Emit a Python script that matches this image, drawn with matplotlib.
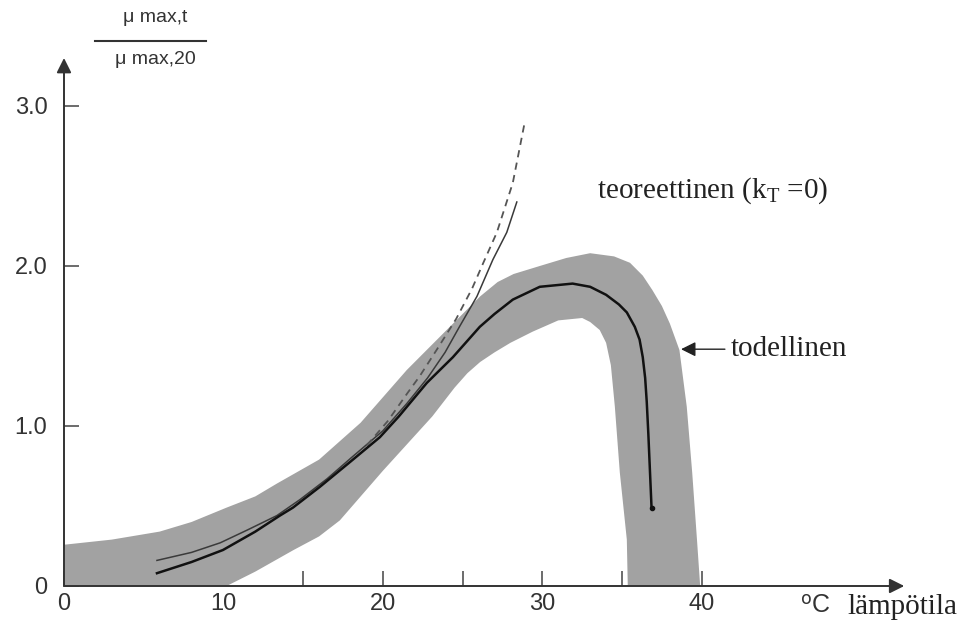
import numpy as np
import matplotlib
matplotlib.use("Agg")
import matplotlib.pyplot as plt
from matplotlib.lines import Line2D

plt.rcParams['font.family'] = ['Liberation Sans', 'DejaVu Sans']
plt.rcParams['mathtext.fontset'] = 'custom'
plt.rcParams['mathtext.rm'] = 'Liberation Serif'
plt.rcParams['mathtext.it'] = 'Liberation Serif:italic'

# measured curve (todellinen), temperature in C
real_t = [5.83, 8, 9.97, 12, 13.54, 14.36, 16.05, 18, 19.81, 21, 22.76, 24.39, 26.08,
          27, 28.15, 29.84, 31.9, 33, 34.0, 34.8, 35.3, 35.8, 36.1, 36.3, 36.45,
          36.55, 36.65, 36.75, 36.85]
real_mu = [0.08, 0.15, 0.225, 0.34, 0.44, 0.49, 0.62, 0.78, 0.93, 1.06, 1.27, 1.43, 1.62,
           1.7, 1.79, 1.87, 1.89, 1.87, 1.82, 1.76, 1.71, 1.62, 1.54, 1.43, 1.3,
           1.15, 0.95, 0.72, 0.49]

# grey scatter band: outer (upper) edge, then inner (lower) edge back
band_top_t = [-1, 0.2, 3, 6, 8, 10.2, 12, 13.35, 16, 18.6, 21.5, 24, 26.1, 27.2, 28.2,
              29.84, 31.5, 33.0, 34.5, 35.5, 36.3, 36.9, 37.5, 38.0, 38.6, 39.06, 39.4,
              39.7, 39.9, 40.0]
band_top_mu = [0.25, 0.26, 0.29, 0.34, 0.4, 0.49, 0.56, 0.64, 0.79, 1.02, 1.35, 1.6, 1.81,
               1.9, 1.95, 2.0, 2.05, 2.08, 2.06, 2.02, 1.94, 1.85, 1.75, 1.64, 1.475,
               1.12, 0.71, 0.29, 0.0, -0.2]
band_low_t = [35.45, 35.36, 35.3, 34.86, 34.55, 34.3, 34.0, 33.6, 33.0, 32.5, 31.0, 29.4,
              28.0, 27.0, 26.1, 25.3, 24.5, 23.1, 20.0, 17.3, 16.0, 14.4, 12.0, 10.2,
              9.5, -1]
band_low_mu = [-0.2, 0.0, 0.29, 0.71, 1.12, 1.38, 1.52, 1.6, 1.65, 1.675, 1.66, 1.59,
               1.52, 1.46, 1.4, 1.33, 1.24, 1.06, 0.72, 0.41, 0.31, 0.225, 0.09, 0.0,
               -0.2, -0.2]

# theoretical (kT=0), thin line
theo_t = [5.83, 8, 9.8, 11.5, 13.35, 14.8, 16.5, 18, 20, 21.5, 22.8, 23.9, 24.8, 25.9,
          26.9, 27.77, 28.4]
theo_mu = [0.16, 0.21, 0.27, 0.35, 0.44, 0.54, 0.67, 0.8, 0.97, 1.14, 1.3, 1.46, 1.62,
           1.81, 2.04, 2.21, 2.4]

# theoretical, dashed branch
theo2_t = [19, 20.3, 21.5, 22.3, 23.4, 24.6, 25.6, 26.3, 27.15, 28.15, 28.9]
theo2_mu = [0.88, 1.03, 1.2, 1.31, 1.48, 1.67, 1.86, 2.02, 2.21, 2.52, 2.9]

x_major = [0, 10, 20, 30, 40]
x_minor = [5, 15, 25, 35]
y_ticks = [0, 1, 2, 3]
y_labels = ['0', '1.0', '2.0', '3.0']

fig = plt.figure(figsize=(9.61, 6.32), dpi=100)
ax = fig.add_axes([64 / 961, 46 / 632, 853 / 961, 536 / 632])
ax.set_xlim(0, 53.5)
ax.set_ylim(0, 3.35)
for s in ax.spines.values():
    s.set_visible(False)
ax.set_axisbelow(True)

ax.fill(band_top_t + band_low_t, band_top_mu + band_low_mu, color='#a2a2a2',
        lw=0, zorder=1)
ax.plot(theo_t, theo_mu, color='#3a3a3a', lw=1.1, zorder=2)
ax.plot(theo2_t, theo2_mu, color='#555555', lw=1.3, ls=(0, (4, 3)), zorder=2)
ax.plot(real_t, real_mu, color='#111111', lw=1.8, zorder=3)
ax.plot(real_t[-1], real_mu[-1], 'o', color='#111111', ms=3, zorder=3)

# axes with arrows
ax.annotate('', xy=(52.7, 0), xytext=(0, 0), annotation_clip=False,
            arrowprops=dict(arrowstyle='-|>', color='#333333', lw=1.4,
                            mutation_scale=22, shrinkA=0, shrinkB=0), zorder=5)
ax.annotate('', xy=(0, 3.3), xytext=(0, 0), annotation_clip=False,
            arrowprops=dict(arrowstyle='-|>', color='#333333', lw=1.4,
                            mutation_scale=22, shrinkA=0, shrinkB=0), zorder=5)

ax.set_xticks(x_major)
ax.set_xticklabels([str(v) for v in x_major])
ax.set_xticks(x_minor, minor=True)
ax.set_yticks(y_ticks)
ax.set_yticklabels(y_labels)
ax.tick_params(axis='both', which='both', direction='in', length=11, width=1.1,
               color='#444444', labelcolor='#333333', labelsize=17)
ax.tick_params(axis='x', pad=5)
ax.tick_params(axis='y', pad=12)

ax.text(33.4, 2.47, r'teoreettinen $(\mathrm{k_T}$ =0)', fontsize=21,
        family='Liberation Serif', color='#222222', va='center')
ax.annotate('todellinen', xy=(38.7, 1.48), xytext=(41.8, 1.48),
            fontsize=21, family='Liberation Serif', color='#222222', va='center',
            arrowprops=dict(arrowstyle='-|>', color='#222222', lw=1.0,
                            mutation_scale=22, shrinkA=2, shrinkB=0))

fig.text(800 / 961, 1 - 606 / 632, r'$^{\mathsf{o}}$C', fontsize=18, color='#333333',
         va='center')
fig.text(847 / 961, 1 - 607 / 632, 'lämpötila', fontsize=21,
         family='Liberation Serif', color='#222222', va='center')

# y label as a fraction
fig.text(155 / 961, 1 - 18 / 632, 'μ max,t', fontsize=14, color='#333333',
         ha='center', va='center')
fig.text(155 / 961, 1 - 60 / 632, 'μ max,20', fontsize=14, color='#333333',
         ha='center', va='center')
fig.add_artist(Line2D([95 / 961, 206 / 961], [1 - 41 / 632, 1 - 41 / 632],
                      transform=fig.transFigure, color='#333333', lw=1.5))

fig.savefig('out.png', dpi=100)
